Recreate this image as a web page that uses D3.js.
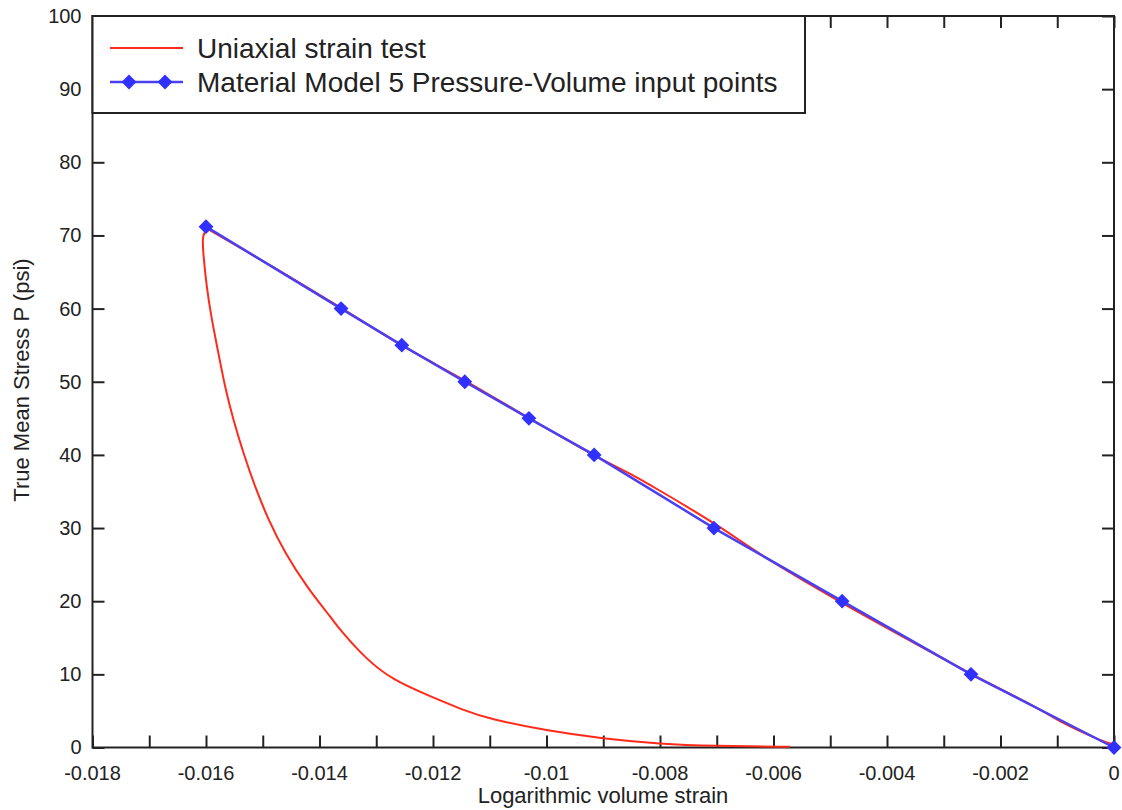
<!DOCTYPE html>
<html>
<head>
<meta charset="utf-8">
<script src="https://cdn.jsdelivr.net/npm/d3@7"></script>
<style>
body { margin: 0; background: #fff; }
text { font-family: "Liberation Sans", Arial, sans-serif; fill: #222; }
</style>
</head>
<body>
<div id="chart-area"></div>
<script>
let width = 1122,
height = 810;

// Material model 5 input points (strain, pressure psi)
let mm5Strain = [-0.0160, -0.01362, -0.01255, -0.01144, -0.01031, -0.00916, -0.00705, -0.00479, -0.00252, 0];
let mm5Pressure = [71.2, 60, 55, 50, 45, 40, 30, 20, 10, 0];

// uniaxial strain test: loading then unloading
let testStrain = [0, -0.0002, -0.0005, -0.0008, -0.0009, -0.0015, -0.0025, -0.0035, -0.0048, -0.006, -0.0070, -0.0075, -0.0080, -0.0085, -0.0092, -0.0103, -0.0114, -0.0126, -0.0136, -0.0148, -0.01595,
	-0.01607, -0.01605, -0.01599, -0.01590, -0.01578, -0.01567, -0.01552, -0.01534, -0.01514, -0.01490, -0.01461, -0.01423, -0.01376, -0.01364, -0.01317, -0.01270, -0.01211, -0.01147, -0.01100, -0.01000, -0.00900, -0.00800, -0.00706, -0.00571];
let testPressure = [0.4, 0.9, 1.9, 3.0, 3.4, 6.0, 10.0, 14.2, 19.8, 25.3, 30.4, 32.8, 35.1, 37.3, 40.1, 45, 50, 55.2, 60, 65.6, 70.8,
	70.3, 67.6, 63.0, 58.5, 53.9, 49.4, 44.8, 40.2, 35.7, 31.1, 26.6, 22.0, 17.4, 16.1, 12.0, 9.2, 7.2, 5.1, 3.9, 2.3, 1.2, 0.48, 0.2, 0.1];
let peakIndex = 20;

let xTicks = [-0.018, -0.016, -0.014, -0.012, -0.01, -0.008, -0.006, -0.004, -0.002, 0];
let xMinor = d3.range(-18, 1).map(d => d / 1000);
let yTicks = [0, 10, 20, 30, 40, 50, 60, 70, 80, 90, 100];

let legendLabels = ["Uniaxial strain test", "Material Model 5 Pressure-Volume input points"];

let margin = {left: 92.5, right: 1114, top: 16, bottom: 747.5};

let svg = d3.select("#chart-area").append("svg")
	.attr("width", width)
	.attr("height", height);

let x = d3.scaleLinear().domain([-0.018, 0]).range([margin.left, margin.right]);
let y = d3.scaleLinear().domain([0, 100]).range([margin.bottom, margin.top]);

let tickLen = 12;

// bottom axis, ticks point inward
let xAxis = svg.append("g")
	.attr("transform", "translate(0," + margin.bottom + ")")
	.call(d3.axisBottom(x).tickValues(xMinor).tickSize(-tickLen).tickFormat(""));
xAxis.select(".domain").remove();
xAxis.selectAll("line").attr("stroke", "#222").attr("stroke-width", 2);

svg.append("g").selectAll("text")
	.data(xTicks)
	.enter().append("text")
	.attr("x", d => x(d))
	.attr("y", 780)
	.attr("text-anchor", "middle")
	.style("font-size", "20px")
	.text(d => d === 0 ? "0" : String(d));

let xTop = svg.append("g")
	.attr("transform", "translate(0," + margin.top + ")")
	.call(d3.axisTop(x).tickValues(xMinor).tickSize(-tickLen).tickFormat(""));
xTop.select(".domain").remove();
xTop.selectAll("line").attr("stroke", "#222").attr("stroke-width", 2);

let yAxis = svg.append("g")
	.attr("transform", "translate(" + margin.left + ",0)")
	.call(d3.axisLeft(y).tickValues(yTicks).tickSize(-tickLen).tickPadding(11));
yAxis.select(".domain").remove();
yAxis.selectAll("line").attr("stroke", "#222").attr("stroke-width", 2);
yAxis.selectAll("text").style("font-size", "20px").style("font-family", "Liberation Sans, Arial, sans-serif").attr("fill", "#222");

let yRight = svg.append("g")
	.attr("transform", "translate(" + margin.right + ",0)")
	.call(d3.axisRight(y).tickValues(yTicks).tickSize(-tickLen).tickFormat(""));
yRight.select(".domain").remove();
yRight.selectAll("line").attr("stroke", "#222").attr("stroke-width", 2);

// frame
svg.append("rect")
	.attr("x", margin.left)
	.attr("y", margin.top)
	.attr("width", margin.right - margin.left)
	.attr("height", margin.bottom - margin.top)
	.attr("fill", "none")
	.attr("stroke", "#222")
	.attr("stroke-width", 2);

// axis titles
svg.append("text")
	.attr("x", 603)
	.attr("y", 803)
	.attr("text-anchor", "middle")
	.style("font-size", "22px")
	.text("Logarithmic volume strain");

svg.append("text")
	.attr("transform", "translate(29,380) rotate(-90)")
	.attr("text-anchor", "middle")
	.style("font-size", "22px")
	.text("True Mean Stress P (psi)");

let testData = testStrain.map((s, i) => [s, testPressure[i]]);
let mm5Data = mm5Strain.map((s, i) => [s, mm5Pressure[i]]);

// loading branch and smooth unloading branch
svg.append("path")
	.datum(testData.slice(0, peakIndex + 1))
	.attr("d", d3.line().x(d => x(d[0])).y(d => y(d[1])).curve(d3.curveCatmullRom.alpha(0.5)))
	.attr("fill", "none")
	.attr("stroke", "#ff2a1a")
	.attr("stroke-width", 2);

svg.append("path")
	.datum(testData.slice(peakIndex))
	.attr("d", d3.line().x(d => x(d[0])).y(d => y(d[1])).curve(d3.curveBasis))
	.attr("fill", "none")
	.attr("stroke", "#ff2a1a")
	.attr("stroke-width", 2);

svg.append("path")
	.datum(mm5Data)
	.attr("d", d3.line().x(d => x(d[0])).y(d => y(d[1])))
	.attr("fill", "none")
	.attr("stroke", "#4a40f0")
	.attr("stroke-width", 2.5);

let diamond = d3.symbol().type(d3.symbolDiamond2).size(140);

svg.selectAll(".mark")
	.data(mm5Data)
	.enter().append("path")
	.attr("class", "mark")
	.attr("d", diamond)
	.attr("transform", d => "translate(" + x(d[0]) + "," + y(d[1]) + ")")
	.attr("fill", "#3030ff");

// legend
let legend = svg.append("g");
legend.append("rect")
	.attr("x", margin.left)
	.attr("y", margin.top)
	.attr("width", 805 - margin.left)
	.attr("height", 113 - margin.top)
	.attr("fill", "#fff")
	.attr("stroke", "#222")
	.attr("stroke-width", 2);

legend.append("line")
	.attr("x1", 110).attr("x2", 183)
	.attr("y1", 48).attr("y2", 48)
	.attr("stroke", "#ff2a1a").attr("stroke-width", 2);

legend.append("line")
	.attr("x1", 110).attr("x2", 183)
	.attr("y1", 82).attr("y2", 82)
	.attr("stroke", "#4a40f0").attr("stroke-width", 2.5);

legend.selectAll(".lmark")
	.data([129, 165])
	.enter().append("path")
	.attr("class", "lmark")
	.attr("d", diamond)
	.attr("transform", d => "translate(" + d + ",82)")
	.attr("fill", "#3030ff");

legend.selectAll(".ltext")
	.data(legendLabels)
	.enter().append("text")
	.attr("class", "ltext")
	.attr("x", 197)
	.attr("y", (d, i) => 58 + i * 34)
	.style("font-size", "28px")
	.text(d => d);
</script>
</body>
</html>
